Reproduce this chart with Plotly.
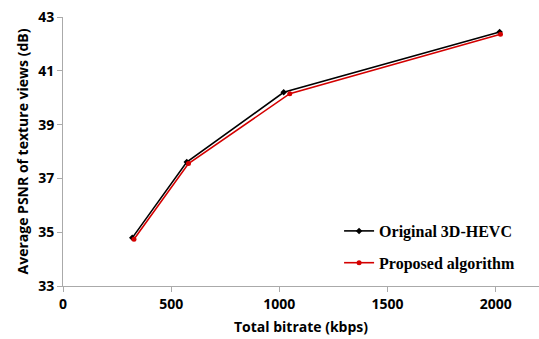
import plotly.graph_objects as go

bitrate_orig = [320, 572, 1020, 2018]
psnr_orig = [34.79, 37.61, 40.20, 42.44]
bitrate_prop = [328, 580, 1048, 2022]
psnr_prop = [34.74, 37.55, 40.15, 42.36]

x_ticks = [0, 500, 1000, 1500, 2000]
y_ticks = [33, 35, 37, 39, 41, 43]

fig = go.Figure()
fig.add_trace(go.Scatter(x=bitrate_orig, y=psnr_orig, mode="lines+markers",
                         name="Original 3D-HEVC", legendgroup="a",
                         line=dict(color="black", width=1.6),
                         marker=dict(symbol="diamond", size=5, color="black")))
fig.add_trace(go.Scatter(x=bitrate_prop, y=psnr_prop, mode="lines+markers",
                         name="Proposed algorithm", legendgroup="b",
                         line=dict(color="#d40000", width=1.6),
                         marker=dict(symbol="circle", size=5, color="#d40000")))

fig.update_layout(
    width=539, height=339,
    margin=dict(l=63, r=0, t=17, b=53),
    plot_bgcolor="white", paper_bgcolor="white",
    font=dict(family="Open Sans, sans-serif", size=14, color="black"),
    showlegend=True,
    legend=dict(x=0.58, y=0.145, xanchor="left", yanchor="middle",
                bgcolor="rgba(0,0,0,0)",
                font=dict(family="Liberation Serif, Times New Roman, serif", size=16, color="black", weight="bold"),
                tracegroupgap=8, itemwidth=30),
)
fig.update_xaxes(range=[0, 2200], tickvals=x_ticks, ticks="outside", ticklen=5,
                 tickcolor="#aaaaaa", showline=True, linecolor="#aaaaaa", linewidth=1,
                 showgrid=False, zeroline=False,
                 tickfont=dict(size=14, weight="bold"),
                 title=dict(text="Total bitrate (kbps)", font=dict(size=14, weight="bold"), standoff=10))
fig.update_yaxes(range=[33, 43], tickvals=y_ticks, ticks="outside", ticklen=5,
                 tickcolor="#aaaaaa", showline=True, linecolor="#aaaaaa", linewidth=1,
                 showgrid=False, zeroline=False,
                 tickfont=dict(size=14, weight="bold"),
                 title=dict(text="Average PSNR of texture views (dB)", font=dict(size=14, weight="bold"), standoff=6))

fig.write_html("out.html")
